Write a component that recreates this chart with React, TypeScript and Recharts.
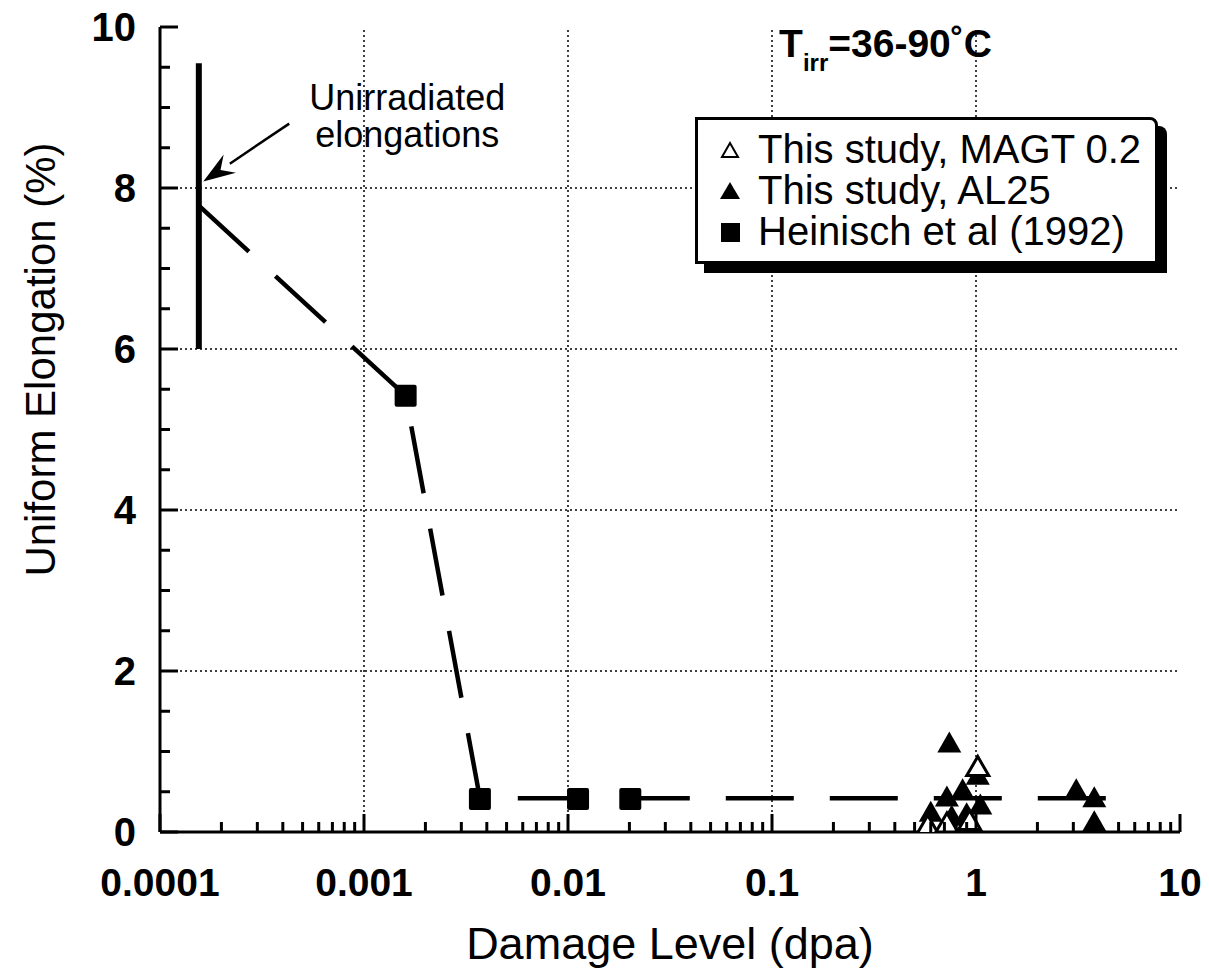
import React from 'react';
import {
  ScatterChart, Scatter, XAxis, YAxis, ReferenceLine, ReferenceDot, Legend,
} from 'recharts';

// ---------- data ----------
const magtX = [1.02, 0.58, 0.93, 0.72];
const magtY = [0.8, 0.07, 0.13, 0.1];

const al25X = [0.74, 1.02, 0.86, 0.72, 1.05, 0.6, 0.76, 0.9, 3.1, 3.8, 3.8];
const al25Y = [1.1, 0.7, 0.52, 0.43, 0.33, 0.24, 0.19, 0.22, 0.52, 0.42, 0.12];

const heinX = [0.0016, 0.0037, 0.0112, 0.0202];
const heinY = [5.42, 0.41, 0.41, 0.41];

const trendX = [0.000155, 0.0016, 0.0037, 5.8];
const trendY = [7.78, 5.42, 0.42, 0.42];

const barX = [0.000155, 0.000155];
const barY = [6.0, 9.55];

const arrowFrom = { x: 0.00043, y: 8.8 };
const arrowTo = { x: 0.000163, y: 8.08 };

const xMajorTicks = [0.0001, 0.001, 0.01, 0.1, 1, 10];
const xMinorMult = [2, 3, 4, 5, 6, 7, 8, 9];
const yMajorTicks = [0, 2, 4, 6, 8, 10];
const yMinorTicks = [0.5, 1, 1.5, 2.5, 3, 3.5, 4.5, 5, 5.5, 6.5, 7, 7.5, 8.5, 9, 9.5];
const xGrid = [0.001, 0.01, 0.1, 1];
const yGrid = [2, 4, 6, 8];

const legendLabels = ['This study, MAGT 0.2', 'This study, AL25', 'Heinisch et al (1992)'];
const noteText = ['Unirradiated', 'elongations'];
const notePos = { x: 0.00163, y: 8.97 };
const tempPos = { x: 0.36, y: 9.8 };

// ---------- build ----------
const zip = (xs: number[], ys: number[]) => xs.map((x, i) => ({ x, y: ys[i] }));
const magt = zip(magtX, magtY);
const al25 = zip(al25X, al25Y);
const hein = zip(heinX, heinY);
const trend = zip(trendX, trendY);
const bar = zip(barX, barY);

const xTicks: number[] = [];
xMajorTicks.forEach((d, i) => {
  xTicks.push(d);
  if (i < xMajorTicks.length - 1) xMinorMult.forEach((m) => xTicks.push(+(d * m).toPrecision(3)));
});
const yTicks = [...yMajorTicks, ...yMinorTicks].sort((a, b) => a - b);

const FONT = '"Liberation Sans", Arial, Helvetica, sans-serif';
const isMajorX = (v: number) => xMajorTicks.some((t) => Math.abs(t - v) / t < 1e-6);
const isMajorY = (v: number) => yMajorTicks.includes(v);

const BottomTick = (p: any) => {
  const v = p.payload.value;
  const major = isMajorX(v);
  return (
    <g>
      <line x1={p.x} x2={p.x} y1={p.y} y2={p.y - (major ? 18 : 10)} stroke="#000" strokeWidth={3} />
      {major && (
        <text x={p.x} y={p.y + 64} textAnchor="middle" fontFamily={FONT} fontSize={39} fontWeight="bold" fill="#000">
          {String(v)}
        </text>
      )}
    </g>
  );
};
const TopTick = (p: any) => {
  const major = isMajorX(p.payload.value);
  return <line x1={p.x} x2={p.x} y1={p.y} y2={p.y + (major ? 18 : 10)} stroke="#000" strokeWidth={3} />;
};
const LeftTick = (p: any) => {
  const v = p.payload.value;
  const major = isMajorY(v);
  return (
    <g>
      <line x1={p.x} x2={p.x + (major ? 18 : 10)} y1={p.y} y2={p.y} stroke="#000" strokeWidth={3} />
      {major && (
        <text x={p.x - 24} y={p.y + 14} textAnchor="end" fontFamily={FONT} fontSize={40} fontWeight="bold" fill="#000">
          {String(v)}
        </text>
      )}
    </g>
  );
};
const RightTick = (p: any) => {
  const major = isMajorY(p.payload.value);
  return <line x1={p.x} x2={p.x - (major ? 18 : 10)} y1={p.y} y2={p.y} stroke="#000" strokeWidth={3} />;
};

const FilledTri = (p: any) => {
  const { cx, cy } = p;
  return <polygon points={`${cx},${cy - 12} ${cx - 12},${cy + 9} ${cx + 12},${cy + 9}`} fill="#000" />;
};
const OpenTri = (p: any) => {
  const { cx, cy } = p;
  return (
    <polygon points={`${cx},${cy - 11} ${cx - 11},${cy + 8} ${cx + 11},${cy + 8}`} fill="#fff" stroke="#000" strokeWidth={3} />
  );
};
const Square = (p: any) => {
  const { cx, cy } = p;
  return <rect x={cx - 11} y={cy - 11} width={22} height={22} rx={2} fill="#000" />;
};
const NoShape = () => <g />;

const ArrowShape = (p: any) => {
  const { x1, y1, x2, y2 } = p;
  const ang = Math.atan2(y2 - y1, x2 - x1);
  const L = 32, W = 11;
  const bx = x2 - L * Math.cos(ang), by = y2 - L * Math.sin(ang);
  const nx = -Math.sin(ang), ny = Math.cos(ang);
  return (
    <g>
      <line x1={x1} y1={y1} x2={bx} y2={by} stroke="#000" strokeWidth={2.5} />
      <polygon points={`${x2},${y2} ${bx + nx * W},${by + ny * W} ${bx + 0.35 * L * Math.cos(ang)},${by + 0.35 * L * Math.sin(ang)} ${bx - nx * W},${by - ny * W}`} fill="#000" />
    </g>
  );
};

const NoteShape = (p: any) => (
  <text x={p.cx} y={p.cy} textAnchor="middle" fontFamily={FONT} fontSize={36} fill="#000">
    <tspan x={p.cx} dy={0}>{noteText[0]}</tspan>
    <tspan x={p.cx} dy={37}>{noteText[1]}</tspan>
  </text>
);
const TempShape = (p: any) => (
  <text x={p.cx} y={p.cy + 14} textAnchor="middle" fontFamily={FONT} fontSize={39} fontWeight="bold" fill="#000">
    T<tspan fontSize={24} dy={14}>irr</tspan><tspan dy={-14}>=36-90˚C</tspan>
  </text>
);

const legendMarkers = [
  <svg width={24} height={22} key="a"><polygon points="12,4 4,18 20,18" fill="#fff" stroke="#000" strokeWidth={2} /></svg>,
  <svg width={24} height={22} key="b"><polygon points="12,2 2,19 22,19" fill="#000" /></svg>,
  <svg width={24} height={22} key="c"><rect x={3} y={2} width={19} height={19} fill="#000" /></svg>,
];

const LegendBox = () => (
  <div
    style={{
      border: '3px solid #000',
      boxShadow: '9px 9px 0 #000',
      background: '#fff',
      padding: '9px 14px 9px 4px',
      fontFamily: FONT,
      fontSize: 40,
      lineHeight: '41px',
      color: '#000',
      borderRadius: '0 8px 0 0',
    }}
  >
    {legendLabels.map((t, i) => (
      <div key={t} style={{ display: 'flex', alignItems: 'center' }}>
        <div style={{ width: 56, display: 'flex', justifyContent: 'center' }}>{legendMarkers[i]}</div>
        <span style={{ whiteSpace: 'nowrap' }}>{t}</span>
      </div>
    ))}
  </div>
);

const YTitle = (p: any) => {
  const vb = p.viewBox || { x: 0, y: 27, width: 160, height: 805 };
  const cx = vb.x + 40;
  const cy = vb.y + vb.height / 2 - 70;
  return (
    <text x={cx} y={cy} transform={`rotate(-90 ${cx} ${cy})`} textAnchor="middle" dominantBaseline="central"
      fontFamily={FONT} fontSize={42} fill="#000">
      Uniform Elongation (%)
    </text>
  );
};

export default function App() {
  return (
    <div style={{ position: 'absolute', left: 0, top: 0, width: 1209, height: 975, background: '#fff' }}>
      <ScatterChart width={1209} height={975} margin={{ top: 27, right: 29, bottom: 0, left: 0 }}>
        <XAxis
          xAxisId="b" dataKey="x" type="number" scale="log" domain={[0.0001, 10]} allowDataOverflow
          ticks={xTicks} interval={0} tick={<BottomTick />} tickLine={false} tickSize={0} tickMargin={0}
          axisLine={{ stroke: '#000', strokeWidth: 3 }} height={143}
          label={{ value: 'Damage Level (dpa)', position: 'insideBottom', offset: 16, fontFamily: FONT, fontSize: 45, fill: '#000' }}
        />
        <XAxis
          xAxisId="t" orientation="top" dataKey="x" type="number" scale="log" domain={[0.0001, 10]} allowDataOverflow
          ticks={xTicks} interval={0} tick={<TopTick />} tickLine={false} tickSize={0} tickMargin={0}
          axisLine={{ stroke: '#000', strokeWidth: 3 }} height={0}
        />
        <YAxis
          yAxisId="l" dataKey="y" type="number" domain={[0, 10]} allowDataOverflow ticks={yTicks} interval={0}
          tick={<LeftTick />} tickLine={false} tickSize={0} tickMargin={0}
          axisLine={{ stroke: '#000', strokeWidth: 3 }} width={160}
          label={{ content: <YTitle /> }}
        />
        <YAxis
          yAxisId="r" orientation="right" dataKey="y" type="number" domain={[0, 10]} allowDataOverflow ticks={yTicks} interval={0}
          tick={<RightTick />} tickLine={false} tickSize={0} tickMargin={0}
          axisLine={{ stroke: '#000', strokeWidth: 3 }} width={0}
        />
        {xGrid.map((g) => (
          <ReferenceLine key={'vx' + g} xAxisId="b" yAxisId="l" x={g} stroke="#000" strokeWidth={1.5} strokeDasharray="2 3" />
        ))}
        {yGrid.map((g) => (
          <ReferenceLine key={'hy' + g} xAxisId="b" yAxisId="l" y={g} stroke="#000" strokeWidth={1.5} strokeDasharray="2 3" />
        ))}
        <Scatter xAxisId="b" yAxisId="l" data={trend} legendType="none" shape={<NoShape />} isAnimationActive={false}
          line={{ stroke: '#000', strokeWidth: 4.5, strokeDasharray: '68 36' }} />
        <Scatter xAxisId="b" yAxisId="l" data={bar} legendType="none" shape={<NoShape />} isAnimationActive={false}
          line={{ stroke: '#000', strokeWidth: 6 }} />
        <Scatter xAxisId="b" yAxisId="l" name={legendLabels[2]} data={hein} shape={<Square />} isAnimationActive={false} />
        <Scatter xAxisId="b" yAxisId="l" name={legendLabels[1]} data={al25} shape={<FilledTri />} isAnimationActive={false} />
        <Scatter xAxisId="b" yAxisId="l" name={legendLabels[0]} data={magt} shape={<OpenTri />} isAnimationActive={false} />
        <ReferenceLine xAxisId="b" yAxisId="l" segment={[arrowFrom, arrowTo]} shape={<ArrowShape />} />
        <ReferenceDot xAxisId="b" yAxisId="l" x={notePos.x} y={notePos.y} r={0} shape={<NoteShape />} />
        <ReferenceDot xAxisId="b" yAxisId="l" x={tempPos.x} y={tempPos.y} r={0} shape={<TempShape />} />
        <Legend content={<LegendBox />} layout="horizontal" verticalAlign="middle" align="center"
          wrapperStyle={{ position: 'absolute', left: 695, top: 117, width: 'auto' }} />
      </ScatterChart>
    </div>
  );
}
